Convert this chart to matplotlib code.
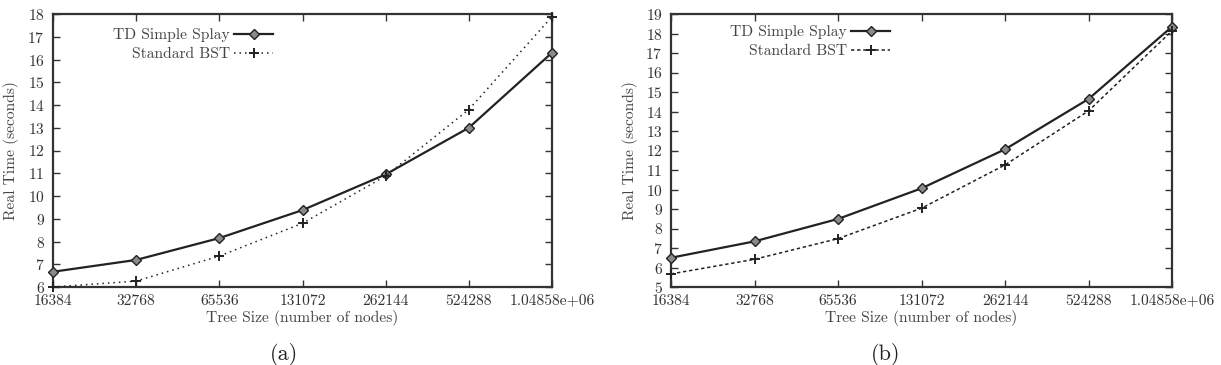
import matplotlib
matplotlib.use("Agg")
import matplotlib.pyplot as plt

plt.rcParams['font.family'] = ['cmr10', 'DejaVu Serif']
plt.rcParams['axes.formatter.use_mathtext'] = True

sizes = [16384, 32768, 65536, 131072, 262144, 524288, 1048576]
size_labels = ["16384", "32768", "65536", "131072", "262144", "524288", "1.04858e+06"]

td_a = [6.67, 7.19, 8.15, 9.38, 10.95, 13.0, 16.3]
bst_a = [6.0, 6.26, 7.36, 8.8, 10.88, 13.8, 17.88]
td_b = [6.5, 7.34, 8.49, 10.06, 12.06, 14.64, 18.35]
bst_b = [5.67, 6.42, 7.48, 9.04, 11.26, 14.03, 18.14]

W, H = 1221, 365
fig = plt.figure(figsize=(W / 100, H / 100), dpi=100)

def make_ax(x0, x1, y0, y1):
    return fig.add_axes([x0 / W, 1 - y1 / H, (x1 - x0) / W, (y1 - y0) / H])

panels = [
    ((53, 552), td_a, bst_a, (6, 18), (0, (1.0, 2.6)), "(a)", 284, 19, (273, 28)),
    ((671, 1172), td_b, bst_b, (5, 19), (0, (2.2, 1.8)), "(b)", 886, 638, (890, 25)),
]

FS = 11.2
for (x0, x1), td, bst, ylim, bls, lab, labx, ylx, legpos in panels:
    ax = make_ax(x0, x1, 14, 287)
    ax.set_xscale('log', base=2)
    ax.plot(sizes, td, color='#222222', lw=1.6, marker='D', markersize=5.5,
            markerfacecolor='#8a8a8a', markeredgecolor='#222222', markeredgewidth=1.0,
            label="TD Simple Splay", clip_on=False, zorder=3)
    ax.plot(sizes, bst, color='#222222', lw=1.1, ls=bls, marker='+', markersize=7,
            markeredgewidth=1.4, label="Standard BST", clip_on=False, zorder=3)
    ax.set_xlim(sizes[0], sizes[-1])
    ax.set_ylim(*ylim)
    ax.set_xticks(sizes)
    ax.set_xticklabels(size_labels)
    ax.minorticks_off()
    ax.set_yticks(range(ylim[0], ylim[1] + 1))
    ax.tick_params(direction='in', top=True, right=True, length=5, width=1.0,
                   labelsize=FS, colors='#333333')
    ax.tick_params(axis='x', pad=5)
    ax.tick_params(axis='y', pad=6)
    for s in ax.spines.values():
        s.set_linewidth(1.6)
        s.set_color('#333333')
    ax.set_xlabel("Tree Size (number of nodes)", fontsize=FS, color='#444444', labelpad=2)
    ax.set_ylabel("Real Time (seconds)", fontsize=FS, color='#444444')
    ax.yaxis.set_label_coords((ylx - x0) / (x1 - x0), 0.5)
    leg = ax.legend(loc='upper right', bbox_to_anchor=(legpos[0] / W, 1 - legpos[1] / H),
                    bbox_transform=fig.transFigure, frameon=False,
                    markerfirst=False, fontsize=FS, handlelength=2.5,
                    handletextpad=0.25, labelspacing=0.35, borderpad=0, borderaxespad=0)
    for t in leg.get_texts():
        t.set_ha('right')
        t.set_color('#444444')
    fig.text(labx / W, 1 - 355 / H, lab, fontsize=16, ha='center', va='center', color='#222222')

fig.savefig("out.png", dpi=100)
